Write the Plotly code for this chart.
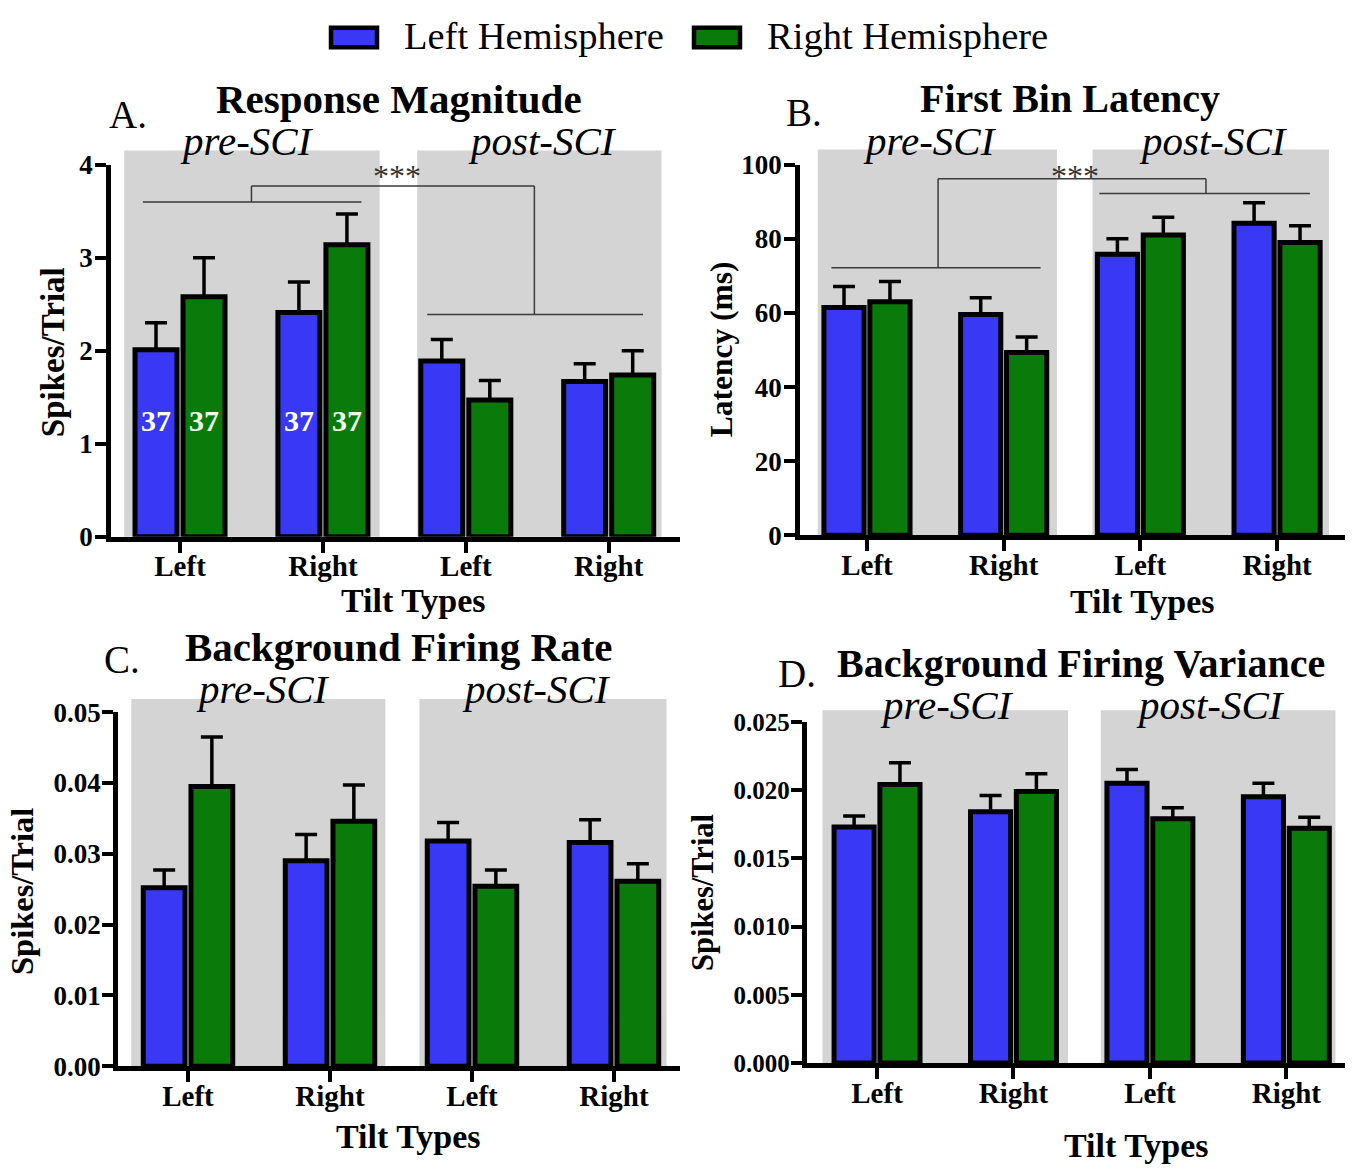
import plotly.graph_objects as go

W, H = 1360, 1174
FONT = "Liberation Serif"
BLUE = "#3838f5"
GREEN = "#0a7b0a"
GREY = "#d4d4d4"

# ---------------- data ----------------
categories = [0, 1, 2, 3]
tick_labels = ["Left", "Right", "Left", "Right"]
hemispheres = ["Left Hemisphere", "Right Hemisphere"]

# A. Response Magnitude (spikes/trial)
resp_left_mean = [2.01, 2.41, 1.89, 1.67]
resp_left_sem = [0.29, 0.33, 0.23, 0.19]
resp_right_mean = [2.58, 3.14, 1.47, 1.74]
resp_right_sem = [0.42, 0.33, 0.21, 0.26]
resp_n_labels = ["37", "37", "", ""]

# B. First Bin Latency (ms)
lat_left_mean = [61.5, 59.6, 75.8, 84.2]
lat_left_sem = [5.6, 4.5, 4.2, 5.5]
lat_right_mean = [63.0, 49.3, 81.0, 79.0]
lat_right_sem = [5.5, 4.2, 4.8, 4.5]

# C. Background Firing Rate (spikes/trial)
bfr_left_mean = [0.0252, 0.0290, 0.0318, 0.0316]
bfr_left_sem = [0.0025, 0.0037, 0.0026, 0.0032]
bfr_right_mean = [0.0395, 0.0346, 0.0254, 0.0261]
bfr_right_sem = [0.0070, 0.0051, 0.0023, 0.0025]

# D. Background Firing Variance (spikes/trial)
bfv_left_mean = [0.0173, 0.0184, 0.0205, 0.0195]
bfv_left_sem = [0.0008, 0.0012, 0.0010, 0.0010]
bfv_right_mean = [0.0204, 0.0199, 0.0179, 0.0172]
bfv_right_sem = [0.0016, 0.0013, 0.0008, 0.0008]

# significance brackets: (pre level, top level, post level)
resp_bracket = [3.60, 3.77, 2.39]
lat_bracket = [72.2, 96.2, 92.2]

# ---------------- layout constants ----------------
BARGAP = 0.328
GROUPGAP = 0.125
SLOT = (1 - BARGAP) / 2

panels = [
    dict(k="", left=(resp_left_mean, resp_left_sem), right=(resp_right_mean, resp_right_sem),
         xpx=(111, 680), ypx=(535.5, 153.6), xr=[-0.483, 3.499], yr=[0, 4], dtick=1, fmt="d",
         grey=[(-0.39, 1.397), (1.66, 3.37)], grey_top=139,
         title="Response Magnitude", tsize=41, title_xy=(399, 86), letter="A.", letter_xy=(128, 102),
         pre_xy=(247, 129), post_xy=(542, 129), xt_xy=(414, 601),
         ytitle="Spikes/Trial", ysize=33, yt_xy=(53, 346), yfont=27, ystand=-3),
    dict(k="2", left=(lat_left_mean, lat_left_sem), right=(lat_right_mean, lat_right_sem),
         xpx=(800, 1345), ypx=(534, 153.6), xr=[-0.49, 3.497], yr=[0, 100], dtick=20, fmt="d",
         grey=[(-0.36, 1.39), (1.65, 3.38)], grey_top=138,
         title="First Bin Latency", tsize=40, title_xy=(1070, 86), letter="B.", letter_xy=(804, 100),
         pre_xy=(930, 129), post_xy=(1213, 129), xt_xy=(1142, 602),
         ytitle="Latency (ms)", ysize=31.5, yt_xy=(721, 343), yfont=27, ystand=-3),
    dict(k="3", left=(bfr_left_mean, bfr_left_sem), right=(bfr_right_mean, bfr_right_sem),
         xpx=(118, 680), ypx=(1078.7, 715.4), xr=[-0.493, 3.465], yr=[0, 0.05], dtick=0.01, fmt=".2f",
         grey=[(-0.40, 1.39), (1.63, 3.37)], grey_top=702,
         title="Background Firing Rate", tsize=41, title_xy=(399, 649), letter="C.", letter_xy=(122, 661),
         pre_xy=(263, 692), post_xy=(536, 692), xt_xy=(408, 1151),
         ytitle="Spikes/Trial", ysize=32.5, yt_xy=(22, 900), yfont=27, ystand=-4),
    dict(k="4", left=(bfv_left_mean, bfv_left_sem), right=(bfv_right_mean, bfv_right_sem),
         xpx=(806.5, 1345), ypx=(1075.5, 725.3), xr=[-0.517, 3.43], yr=[0, 0.025], dtick=0.005, fmt=".3f",
         grey=[(-0.40, 1.40), (1.64, 3.36)], grey_top=713.6,
         title="Background Firing Variance", tsize=40, title_xy=(1081, 665), letter="D.", letter_xy=(797, 676),
         pre_xy=(947, 708), post_xy=(1210, 708), xt_xy=(1136, 1160),
         ytitle="Spikes/Trial", ysize=30.5, yt_xy=(703, 901), yfont=25, ystand=-4),
]


def fx(px):
    return px / W


def fy(py):
    return 1 - py / H


def ann(text, xy, size, bold=False, italic=False, angle=0, color="black", xanchor="center"):
    return dict(text=text, x=fx(xy[0]), y=fy(xy[1]), xref="paper", yref="paper",
                showarrow=False, textangle=angle, xanchor=xanchor, yanchor="middle",
                font=dict(family=FONT, size=size, color=color,
                          weight="bold" if bold else "normal",
                          style="italic" if italic else "normal"))


fig = go.Figure()
shapes = []
annotations = []
layout = {}

for p in panels:
    k = p["k"]
    xa, ya = "x" + k, "y" + k
    for name, (mean, sem), color in [(hemispheres[0], p["left"], BLUE), (hemispheres[1], p["right"], GREEN)]:
        fig.add_trace(go.Bar(
            x=categories, y=mean, name=name, xaxis=xa, yaxis=ya, showlegend=False,
            marker=dict(color=color, line=dict(color="black", width=5)),
            error_y=dict(type="data", symmetric=False, array=sem, arrayminus=[0] * len(sem),
                         color="black", thickness=3.5, width=11),
        ))
    dom_h = p["ypx"][0] - p["ypx"][1]
    layout["xaxis" + k] = dict(
        domain=[fx(p["xpx"][0]), fx(p["xpx"][1])], range=p["xr"], anchor=ya,
        tickmode="array", tickvals=categories, ticktext=tick_labels,
        showline=True, linewidth=4.5, linecolor="black", ticks="outside", ticklen=11,
        tickwidth=4, tickcolor="black", showgrid=False, zeroline=False, ticklabelstandoff=-11,
        tickfont=dict(family=FONT, size=29, color="black", weight="bold"), fixedrange=True)
    layout["yaxis" + k] = dict(
        domain=[fy(p["ypx"][0]), fy(p["ypx"][1])], range=p["yr"], anchor=xa,
        tick0=0, dtick=p["dtick"], tickformat=p["fmt"],
        showline=True, linewidth=4.5, linecolor="black", ticks="outside", ticklen=11,
        tickwidth=4, tickcolor="black", showgrid=False, zeroline=False, ticklabelstandoff=p["ystand"],
        tickfont=dict(family=FONT, size=p["yfont"], color="black", weight="bold"), fixedrange=True)
    grey_top = 1 + (p["ypx"][1] - p["grey_top"]) / dom_h
    for g0, g1 in p["grey"]:
        shapes.append(dict(type="rect", xref=xa, yref=ya + " domain", x0=g0, x1=g1, y0=0, y1=grey_top,
                           fillcolor=GREY, line=dict(width=0), layer="below"))
    annotations += [
        ann(p["title"], p["title_xy"], p["tsize"], bold=True),
        ann(p["letter"], p["letter_xy"], 39),
        ann("pre-SCI", p["pre_xy"], 41, italic=True),
        ann("post-SCI", p["post_xy"], 41, italic=True),
        ann("Tilt Types", p["xt_xy"], 34, bold=True),
        ann(p["ytitle"], p["yt_xy"], p["ysize"], bold=True, angle=-90),
    ]


def bracket(xa, ya, levels, pre_span, post_span, stems, star_x, star_y):
    lo, top, post = levels
    segs = [
        (pre_span[0], lo, pre_span[1], lo),
        (stems[0], lo, stems[0], top),
        (stems[0], top, stems[1], top),
        (stems[1], top, stems[1], post),
        (post_span[0], post, post_span[1], post),
    ]
    out = [dict(type="line", xref=xa, yref=ya, x0=a, y0=b, x1=c, y1=d,
                line=dict(color="#3a3a3a", width=1.5), layer="above") for a, b, c, d in segs]
    star = dict(text="***", x=star_x, y=star_y, xref=xa, yref=ya, showarrow=False,
                font=dict(family=FONT, size=32, color="#333333"), xanchor="center", yanchor="middle")
    return out, star


s, a = bracket("x", "y", resp_bracket, (-0.26, 1.27), (1.73, 3.24), (0.5, 2.48), 1.52, 3.88)
shapes += s
annotations.append(a)
s, a = bracket("x2", "y2", lat_bracket, (-0.26, 1.27), (1.70, 3.24), (0.52, 2.48), 1.52, 97.0)
shapes += s
annotations.append(a)

# n labels inside the pre-SCI response bars
for i, lab in enumerate(resp_n_labels):
    if lab:
        for off, col in [(-SLOT / 2, "white"), (SLOT / 2, "#f0fff0")]:
            annotations.append(dict(text=lab, x=categories[i] + off, y=1.25, xref="x", yref="y",
                                    showarrow=False, xanchor="center", yanchor="middle",
                                    font=dict(family=FONT, size=30, color=col, weight="bold")))

# legend (drawn manually to match the wide outlined keys)
legend_items = [(hemispheres[0], BLUE, 331, 402), (hemispheres[1], GREEN, 694, 765)]
for name, col, bx, tx in legend_items:
    shapes.append(dict(type="rect", xref="paper", yref="paper", x0=fx(bx), x1=fx(bx + 46),
                       y0=fy(33), y1=fy(13), fillcolor=col, line=dict(color="black", width=4.5)))
    annotations.append(ann(name, (tx, 22), 38.5, xanchor="left"))

fig.update_layout(
    width=W, height=H, margin=dict(l=0, r=0, t=0, b=0),
    paper_bgcolor="white", plot_bgcolor="rgba(0,0,0,0)",
    barmode="group", bargap=BARGAP, bargroupgap=GROUPGAP,
    shapes=shapes, annotations=annotations, showlegend=False,
    font=dict(family=FONT, color="black"),
    **layout,
)

fig.write_html("out.html")
